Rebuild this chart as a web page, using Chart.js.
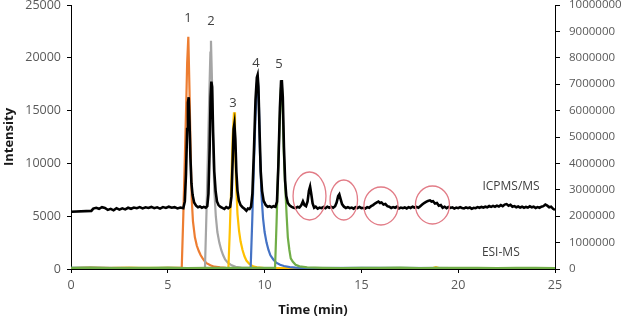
<!DOCTYPE html>
<html>
<head>
<meta charset="utf-8">
<script src="https://cdn.jsdelivr.net/npm/chart.js@4/dist/chart.umd.min.js"></script>
<style>
html,body{margin:0;padding:0;background:#fff;}
#wrap{width:625px;height:318px;}
</style>
</head>
<body>
<div id="wrap"><canvas id="c" width="625" height="318"></canvas></div>
<script>
// ---- Data ----
const xTicks = [0, 5, 10, 15, 20, 25];
const leftTicks = [0, 5000, 10000, 15000, 20000, 25000];
const rightTicks = [0,1000000,2000000,3000000,4000000,5000000,6000000,7000000,8000000,9000000,10000000];

// ICPMS/MS trace (right axis, counts)
const icpTime = [0,1.05,1.15,1.3,1.45,1.6,1.75,1.9,2.05,2.2,2.35,2.5,2.65,2.8,2.95,3.1,3.25,3.4,3.55,3.7,3.85,4.0,4.15,4.3,4.45,4.6,4.75,4.9,5.05,5.2,5.35,5.5,5.65,5.8,
5.88,5.94,6.0,6.04,6.08,6.12,6.17,6.22,6.28,6.36,6.46,6.56,6.66,6.76,6.86,6.96,
7.04,7.1,7.16,7.21,7.25,7.29,7.34,7.4,7.47,7.54,7.62,7.72,7.82,7.92,8.02,8.12,8.22,
8.29,8.35,8.4,8.44,8.49,8.54,8.6,8.67,8.76,8.86,8.96,9.06,9.14,9.22,9.3,
9.37,9.45,9.53,9.6,9.64,9.68,9.74,9.8,9.87,9.95,10.06,10.16,10.26,10.36,10.46,10.56,
10.64,10.71,10.79,10.85,10.89,10.94,11.0,11.06,11.12,11.2,11.3,11.4,11.5,11.6,11.7,11.8,11.9,
11.98,12.06,12.14,12.22,12.29,12.35,12.41,12.48,12.56,12.64,12.74,12.84,12.94,13.04,13.14,13.24,13.34,13.44,13.54,13.64,
13.72,13.8,13.86,13.93,14.0,14.1,14.2,14.3,14.4,14.5,14.6,14.7,14.8,14.9,15.0,15.1,15.2,15.3,15.4,15.5,15.6,15.7,15.8,15.88,15.96,
16.04,16.14,16.24,16.34,16.44,16.54,16.64,16.74,16.84,16.94,17.04,17.14,17.24,17.34,17.44,17.54,17.64,17.74,17.84,17.94,
18.04,18.14,18.24,18.34,18.44,18.54,18.62,18.7,18.8,18.9,19.0,19.1,19.2,19.3,19.4,19.5,19.6,19.7,19.8,19.9,
20.0,20.1,20.2,20.3,20.4,20.5,20.6,20.7,20.8,20.9,21.0,21.1,21.2,21.3,21.4,21.5,21.6,21.7,21.8,21.9,
22.0,22.1,22.2,22.3,22.4,22.5,22.6,22.7,22.8,22.9,23.0,23.1,23.2,23.3,23.4,23.5,23.6,23.7,23.8,23.9,
24.0,24.1,24.2,24.3,24.4,24.5,24.6,24.7,24.8,24.9,25.0];
const icpSignal = [2.168e6,2.2e6,2.288e6,2.32e6,2.28e6,2.34e6,2.312e6,2.24e6,2.28e6,2.224e6,2.304e6,2.248e6,2.296e6,2.256e6,2.32e6,2.28e6,2.328e6,2.304e6,2.344e6,2.296e6,2.336e6,2.312e6,2.352e6,2.304e6,2.336e6,2.288e6,2.344e6,2.312e6,2.36e6,2.32e6,2.344e6,2.296e6,2.328e6,2.304e6,
2.56e6,3.6e6,5.3e6,6.3e6,6.504e6,5.6e6,4.2e6,3.25e6,2.8e6,2.52e6,2.4e6,2.34e6,2.368e6,2.32e6,2.352e6,2.32e6,
2.38e6,2.85e6,4.5e6,6.5e6,7.096e6,6.9e6,5.2e6,3.7e6,2.95e6,2.56e6,2.42e6,2.352e6,2.312e6,2.272e6,2.344e6,2.304e6,2.36e6,
2.75e6,4.1e6,5.3e6,5.492e6,4.9e6,3.7e6,2.96e6,2.6e6,2.42e6,2.34e6,2.28e6,2.208e6,2.288e6,2.272e6,2.36e6,
2.85e6,4.5e6,6.4e6,7.25e6,7.348e6,6.9e6,5.2e6,3.7e6,2.95e6,2.58e6,2.42e6,2.36e6,2.38e6,2.34e6,2.38e6,2.352e6,
2.55e6,3.9e6,6.1e6,7.1e6,7.16e6,6.5e6,4.6e6,3.35e6,2.76e6,2.5e6,2.4e6,2.352e6,2.32e6,2.304e6,2.352e6,2.328e6,2.42e6,
2.56e6,2.42e6,2.38e6,2.56e6,2.96e6,3.12e6,2.84e6,2.48e6,2.32e6,2.36e6,2.288e6,2.328e6,2.304e6,2.344e6,2.3e6,2.36e6,2.32e6,2.352e6,2.32e6,2.38e6,
2.52e6,2.76e6,2.828e6,2.64e6,2.46e6,2.36e6,2.312e6,2.344e6,2.304e6,2.328e6,2.288e6,2.34e6,2.312e6,2.352e6,2.304e6,2.32e6,2.288e6,2.344e6,2.32e6,2.38e6,2.42e6,2.48e6,2.52e6,2.552e6,2.5e6,
2.52e6,2.44e6,2.46e6,2.38e6,2.36e6,2.312e6,2.344e6,2.32e6,2.36e6,2.296e6,2.328e6,2.304e6,2.336e6,2.296e6,2.344e6,2.312e6,2.36e6,2.328e6,2.352e6,2.32e6,
2.38e6,2.44e6,2.5e6,2.54e6,2.58e6,2.6e6,2.552e6,2.568e6,2.48e6,2.5e6,2.4e6,2.42e6,2.32e6,2.36e6,2.304e6,2.352e6,2.312e6,2.336e6,2.288e6,2.328e6,
2.304e6,2.344e6,2.312e6,2.296e6,2.336e6,2.304e6,2.328e6,2.28e6,2.32e6,2.304e6,2.344e6,2.32e6,2.352e6,2.328e6,2.36e6,2.336e6,2.384e6,2.352e6,2.392e6,2.36e6,
2.4e6,2.368e6,2.42e6,2.38e6,2.44e6,2.46e6,2.4e6,2.432e6,2.36e6,2.384e6,2.34e6,2.368e6,2.328e6,2.36e6,2.32e6,2.352e6,2.328e6,2.376e6,2.336e6,2.36e6,
2.312e6,2.344e6,2.32e6,2.36e6,2.38e6,2.44e6,2.4e6,2.34e6,2.36e6,2.28e6,2.24e6];

// ESI-MS traces (left axis, intensity)
const peak1Time = [0,1,2,3,4,5,5.72,5.8,5.88,5.95,6.0,6.06,6.12,6.18,6.24,6.3,6.4,6.5,6.6,6.7,6.8,6.9,7.0,7.2,7.4,7.7,8,10,15,20,25];
const peak1Value = [90,130,80,110,70,100,100,5000,10500,15500,19500,22000,17000,11000,6500,4500,3000,2200,1700,1300,1000,750,550,350,220,150,110,80,70,90,80];

const peak2Time = [0,2,4,6,6.92,7.0,7.08,7.15,7.2,7.23,7.28,7.34,7.4,7.48,7.56,7.66,7.76,7.86,7.96,8.1,8.3,8.5,8.8,10,15,20,25];
const peak2Value = [80,100,70,90,100,5500,11500,17000,20500,21620,18000,12000,7500,5000,3500,2500,1800,1300,900,600,350,200,130,80,70,90,80];

const peak3Time = [0,3,6,8,8.13,8.2,8.28,8.35,8.42,8.47,8.53,8.6,8.68,8.76,8.86,8.96,9.06,9.2,9.4,9.6,10,15,18.7,18.85,19,25];
const peak3Value = [80,100,80,90,100,3500,8000,12500,14840,12000,8000,5200,3600,2600,1800,1200,800,500,250,150,80,90,90,180,90,80];

const peak4Time = [0,3,6,9,9.28,9.36,9.44,9.52,9.6,9.64,9.7,9.76,9.84,9.92,10.0,10.1,10.2,10.3,10.45,10.6,10.8,11.0,11.3,11.6,12,15,20,25];
const peak4Value = [100,80,90,80,100,4500,9500,14000,17500,18300,16000,11000,7000,4800,3500,2500,1800,1300,900,600,400,280,180,130,90,100,80,90];

const peak5Time = [0,1,2,3,4,5,6,7,8,9,10,10.54,10.62,10.7,10.78,10.84,10.88,10.93,10.99,11.06,11.14,11.2,11.28,11.35,11.45,11.6,11.8,12.2,13,14,15,16,17,18,19,20,21,22,23,24,25];
const peak5Value = [100,130,90,120,100,130,90,110,100,120,110,110,4500,9500,14000,17000,17900,15500,11000,8000,5000,3000,1800,1000,700,400,250,150,110,90,120,100,130,90,110,100,120,90,110,100,90];

// Peak numbers (time, intensity) and trace labels
const peakLabels = ['1','2','3','4','5'];
const peakLabelTime = [6.04, 7.23, 8.37, 9.56, 10.74];
const peakLabelIntensity = [23770, 23480, 15720, 19500, 19410];
const traceLabels = ['ICPMS/MS', 'ESI-MS'];
const traceLabelTime = [22.73, 22.2];
const traceLabelIntensity = [7765, 1515];

// Circled minor peaks: centre (time, intensity), half-width (min), half-height (intensity)
const circleTime = [12.32, 14.09, 16.01, 18.67];
const circleIntensity = [6913, 6534, 5966, 6061];
const circleHalfWidth = [0.85, 0.71, 0.88, 0.88];
const circleHalfHeight = [2273, 1894, 1800, 1800];

// ---- Chart ----
const pts = (t, v) => t.map((x, i) => ({x: x, y: v[i]}));

const annot = {
  id: 'annot',
  afterDatasetsDraw(chart) {
    const ctx = chart.ctx, xs = chart.scales.x, ys = chart.scales.y;
    ctx.save();
    ctx.strokeStyle = '#E27C87';
    ctx.lineWidth = 1.3;
    for (let i = 0; i < circleTime.length; i++) {
      const cx = xs.getPixelForValue(circleTime[i]);
      const cy = ys.getPixelForValue(circleIntensity[i]);
      const rx = Math.abs(xs.getPixelForValue(circleTime[i] + circleHalfWidth[i]) - cx);
      const ry = Math.abs(ys.getPixelForValue(circleIntensity[i] + circleHalfHeight[i]) - cy);
      ctx.beginPath();
      ctx.ellipse(cx, cy, rx, ry, 0, 0, Math.PI * 2);
      ctx.stroke();
    }
    ctx.textAlign = 'center';
    ctx.textBaseline = 'middle';
    ctx.fillStyle = '#404040';
    ctx.font = '13px "Open Sans"';
    for (let i = 0; i < peakLabels.length; i++) {
      ctx.fillText(peakLabels[i], xs.getPixelForValue(peakLabelTime[i]), ys.getPixelForValue(peakLabelIntensity[i]));
    }
    ctx.font = '12px "Open Sans"';
    for (let i = 0; i < traceLabels.length; i++) {
      ctx.fillText(traceLabels[i], xs.getPixelForValue(traceLabelTime[i]), ys.getPixelForValue(traceLabelIntensity[i]));
    }
    ctx.restore();
  }
};

const lineDs = (label, t, v, color, axis, order, w) => ({
  label, data: pts(t, v), borderColor: color, backgroundColor: color,
  borderWidth: w, pointRadius: 0, tension: 0, yAxisID: axis, order, fill: false
});

const noVPad = s => { s.paddingTop = 0; s.paddingBottom = 0; };

new Chart(document.getElementById('c'), {
  type: 'line',
  data: {
    datasets: [
      lineDs('ICPMS/MS', icpTime, icpSignal, '#000000', 'y2', 0, 2.6),
      lineDs('Peak 5', peak5Time, peak5Value, '#70AD47', 'y', 1, 2.2),
      lineDs('Peak 4', peak4Time, peak4Value, '#4472C4', 'y', 2, 2.2),
      lineDs('Peak 3', peak3Time, peak3Value, '#FFC000', 'y', 3, 2.2),
      lineDs('Peak 2', peak2Time, peak2Value, '#A5A5A5', 'y', 4, 2.2),
      lineDs('Peak 1', peak1Time, peak1Value, '#ED7D31', 'y', 5, 2.2)
    ]
  },
  options: {
    responsive: false,
    animation: false,
    devicePixelRatio: 1,
    layout: {padding: {top: 5, left: 0, right: 0, bottom: 0}},
    plugins: {legend: {display: false}, tooltip: {enabled: false}},
    scales: {
      x: {
        type: 'linear', min: 0, max: 25,
        afterBuildTicks: s => { s.ticks = xTicks.map(v => ({value: v})); },
        afterFit: s => { s.height = 49; },
        ticks: {color: '#595959', font: {family: 'Open Sans', size: 12.5}, padding: 5, maxRotation: 0},
        grid: {display: true, drawOnChartArea: false, tickLength: 4, color: '#000'},
        border: {display: true, color: '#000', width: 1},
        title: {display: true, text: 'Time (min)', color: '#1a1a1a', font: {family: 'Open Sans', size: 13, weight: 'bold'}, padding: {top: 0, bottom: 0}}
      },
      y: {
        type: 'linear', position: 'left', min: 0, max: 25000,
        afterBuildTicks: s => { s.ticks = leftTicks.map(v => ({value: v})); },
        afterFit: s => { s.width = 71; noVPad(s); },
        ticks: {color: '#595959', font: {family: 'Open Sans', size: 12.5}, padding: 6, callback: v => String(v)},
        grid: {display: true, drawOnChartArea: false, tickLength: 4, color: '#000'},
        border: {display: true, color: '#000', width: 1},
        title: {display: true, text: 'Intensity', color: '#1a1a1a', font: {family: 'Open Sans', size: 13, weight: 'bold'}, padding: {top: 1, bottom: 0}}
      },
      y2: {
        type: 'linear', position: 'right', min: 0, max: 10000000,
        afterBuildTicks: s => { s.ticks = rightTicks.map(v => ({value: v})); },
        afterFit: s => { s.width = 70; noVPad(s); },
        ticks: {color: '#595959', font: {family: 'Open Sans', size: 11.5}, padding: 9, callback: v => String(v)},
        grid: {display: true, drawOnChartArea: false, tickLength: 5, color: '#000'},
        border: {display: true, color: '#000', width: 1}
      }
    }
  },
  plugins: [annot]
});
</script>
</body>
</html>
